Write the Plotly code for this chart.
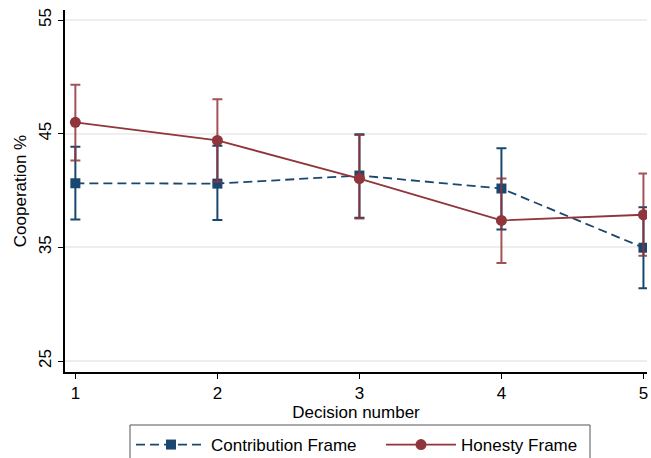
import plotly.graph_objects as go

decision = [1, 2, 3, 4, 5]
contribution = [40.64, 40.61, 41.32, 40.18, 34.97]
contribution_hi = [43.86, 43.95, 44.95, 43.71, 38.54]
contribution_lo = [37.45, 37.40, 37.60, 36.58, 31.40]
honesty = [46.0, 44.41, 41.05, 37.37, 37.87]
honesty_hi = [49.30, 48.04, 44.88, 41.05, 41.49]
honesty_lo = [42.65, 40.78, 37.54, 33.62, 34.27]
yticks = [25, 35, 45, 55]

blue = "#1a476f"
red = "#90353b"

fig = go.Figure()
fig.add_trace(go.Scatter(
    x=decision, y=contribution, name="Contribution Frame", mode="lines+markers",
    line=dict(color=blue, width=1.8, dash="9px,5px"),
    marker=dict(symbol="square", size=10, color=blue),
    error_y=dict(type="data", symmetric=False,
                 array=[h - v for h, v in zip(contribution_hi, contribution)],
                 arrayminus=[v - l for v, l in zip(contribution, contribution_lo)],
                 color=blue, thickness=2, width=5),
    legend="legend",
))
fig.add_trace(go.Scatter(
    x=decision, y=honesty, name="Honesty Frame", mode="lines+markers",
    line=dict(color=red, width=1.8),
    marker=dict(symbol="circle", size=11, color=red),
    error_y=dict(type="data", symmetric=False,
                 array=[h - v for h, v in zip(honesty_hi, honesty)],
                 arrayminus=[v - l for v, l in zip(honesty, honesty_lo)],
                 color="rgba(144,53,59,0.85)", thickness=2, width=5),
    legend="legend2",
))

W, H = 651, 458

# legend frame
fig.add_shape(type="rect", xref="paper", yref="paper",
              x0=(130 - 65) / 582, x1=(590 - 65) / 582,
              y0=(372 - 425) / 362, y1=(372 - 462) / 362,
              line=dict(color="#555555", width=1), fillcolor="rgba(0,0,0,0)", layer="below")

leg_common = dict(orientation="h", yref="container", xref="container",
                  yanchor="middle", y=1 - 445 / H, xanchor="left",
                  borderwidth=0, bgcolor="rgba(0,0,0,0)", font=dict(size=17), itemwidth=70)

fig.update_layout(
    width=W, height=H,
    margin=dict(l=65, r=4, t=10, b=86),
    plot_bgcolor="white", paper_bgcolor="white",
    font=dict(family="Liberation Sans, Arial, sans-serif", size=17, color="black"),
    xaxis=dict(
        range=[0.927, 5.025], tickvals=decision, ticktext=[str(d) for d in decision],
        showline=True, linecolor="black", linewidth=1.5, mirror=False,
        ticks="outside", ticklen=5, tickcolor="black", showgrid=False, zeroline=False,
        title=dict(text="Decision number", font=dict(size=17), standoff=4),
        tickfont=dict(size=17), automargin=False,
    ),
    yaxis=dict(
        range=[24.04, 55.88], tickvals=yticks, ticktext=[str(t) for t in yticks],
        tickangle=-90,
        showline=True, linecolor="black", linewidth=1.5,
        ticks="outside", ticklen=5, tickcolor="black",
        showgrid=True, gridcolor="#eeeeee", gridwidth=1.5, zeroline=False,
        title=dict(text="Cooperation %", font=dict(size=17), standoff=6),
        tickfont=dict(size=17), automargin=False,
    ),
    legend=dict(x=131 / W, **leg_common),
    legend2=dict(x=381 / W, **leg_common),
    showlegend=True,
)

fig.write_html("out.html", config={"displayModeBar": False},
               post_script="document.body.style.margin='0px';document.body.style.overflow='hidden';")
